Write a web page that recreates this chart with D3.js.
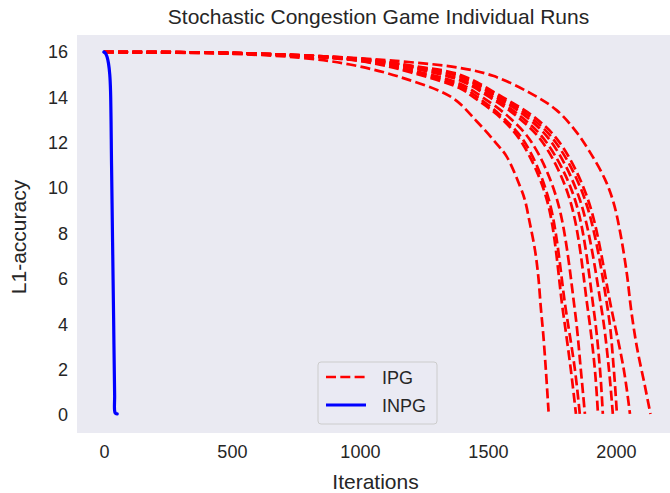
<!DOCTYPE html>
<html><head><meta charset="utf-8">
<script src="https://cdn.jsdelivr.net/npm/d3@7"></script>
<style>body{margin:0;background:#fff;} svg{display:block;font-family:"Liberation Sans",Arial,sans-serif;}</style>
</head><body>
<svg id="c" width="670" height="493"></svg>
<script>
const title = "Stochastic Congestion Game Individual Runs";
const xLabel = "Iterations";
const yLabel = "L1-accuracy";
const xTicks = [0, 500, 1000, 1500, 2000];
const yTicks = [0, 2, 4, 6, 8, 10, 12, 14, 16];
const seriesNames = ["IPG", "INPG"];

// IPG individual runs: [iteration, L1-accuracy]
const ipgRunA = [[0,16],[500,15.92],[766,15.75],[961,15.45],[1156,14.9],[1359,14],[1456,12.95],[1531,12],[1573,11.4],[1625,10.1],[1644,9.5],[1664,8.45],[1684,7.27],[1697,6.1],[1707,4.7],[1716,3.6],[1727,1.9],[1737,0.15]];
const ipgRunB = [[0,16],[500,15.94],[1000,15.6],[1200,15.1],[1391,14.4],[1445,14],[1550,13.1],[1633,12],[1730,9.5],[1793,4.6],[1824,2],[1844,0.05]];
const ipgRunC = [[0,16],[500,15.94],[1000,15.62],[1200,15.15],[1391,14.5],[1461,14],[1560,13.1],[1645,12],[1738,9.5],[1805,4.6],[1840,2],[1859,0.05]];
const ipgRunD = [[0,16],[500,15.95],[1000,15.64],[1200,15.2],[1391,14.6],[1480,14],[1585,13.1],[1672,12],[1770,9.5],[1840,4.6],[1863,2],[1879,0.05]];
const ipgRunE = [[0,16],[500,15.95],[1000,15.66],[1200,15.3],[1391,14.75],[1508,14],[1620,13.1],[1715,12],[1820,9.5],[1891,4.6],[1918,2],[1930,0.05]];
const ipgRunF = [[0,16],[500,15.95],[1000,15.67],[1200,15.32],[1391,14.8],[1520,14],[1635,13.1],[1730,12],[1840,9.5],[1914,4.6],[1938,2],[1949,0.05]];
const ipgRunG = [[0,16],[500,15.96],[1000,15.68],[1200,15.36],[1391,14.9],[1535,14],[1655,13.1],[1750,12],[1859,9.5],[1945,4.6],[1973,2],[1988,0.05]];
const ipgRunH = [[0,16],[500,15.96],[1000,15.7],[1200,15.38],[1391,14.95],[1547,14],[1670,13.1],[1766,12],[1879,9.5],[1969,4.6],[1992,2],[2004,0.05]];
const ipgRunI = [[0,16],[500,15.96],[1000,15.7],[1200,15.4],[1391,15.0],[1559,14],[1685,13.1],[1781,12],[1891,9.5],[1984,4.6],[2031,2],[2055,0.05]];
const ipgRunJ = [[0,16],[500,15.96],[1000,15.72],[1200,15.55],[1391,15.3],[1520,14.95],[1664,14.2],[1768,13.44],[1840,12.56],[1898,11.6],[1957,10.4],[1990,9.4],[2016,8.1],[2042,6.3],[2060,4.6],[2082,3.0],[2113,1.3],[2135,0.05]];
const ipgRuns = [ipgRunA, ipgRunB, ipgRunC, ipgRunD, ipgRunE, ipgRunF, ipgRunG, ipgRunH, ipgRunI, ipgRunJ];

// INPG run
const inpgRun = [[0,16],[6,15.95],[12,15.8],[18,15.5],[23,15.0],[26,14.3],[30,11.0],[34,7.6],[38,4.3],[42,0.9],[44,0.1],[52,0.05]];

const svg = d3.select("#c");
const plotL = 77, plotT = 35, plotB = 433, plotR = 674;
const x = d3.scaleLinear().domain([-105, 2227]).range([plotL, plotR]);
const y = d3.scaleLinear().domain([-0.79, 16.75]).range([plotB, plotT]);

svg.append("defs").append("clipPath").attr("id","clip")
  .append("rect").attr("x",plotL).attr("y",plotT).attr("width",plotR-plotL).attr("height",plotB-plotT);

svg.append("rect").attr("x",plotL).attr("y",plotT).attr("width",plotR-plotL).attr("height",plotB-plotT).attr("fill","#EAEAF2");

const line = d3.line().x(d=>x(d[0])).y(d=>y(d[1])).curve(d3.curveCatmullRom.alpha(0.5));
const g = svg.append("g").attr("clip-path","url(#clip)");
ipgRuns.forEach(run=>{
  g.append("path").attr("d",line(run)).attr("fill","none").attr("stroke","#ff0000")
   .attr("stroke-width",2.7).attr("stroke-dasharray","10,4.3");
});
g.append("path").attr("d",line(inpgRun)).attr("fill","none").attr("stroke","#0000ff")
  .attr("stroke-width",3.2).attr("stroke-linecap","round").attr("stroke-linejoin","round");

const xAxis = d3.axisBottom(x).tickValues(xTicks).tickSize(0).tickPadding(12).tickFormat(d3.format("d"));
const yAxis = d3.axisLeft(y).tickValues(yTicks).tickSize(0).tickPadding(9);
const gx = svg.append("g").attr("transform",`translate(0,${plotB})`).call(xAxis);
const gy = svg.append("g").attr("transform",`translate(${plotL},0)`).call(yAxis);
[gx,gy].forEach(a=>{a.select(".domain").remove();a.selectAll("text").attr("font-size",18).attr("fill","#262626").attr("font-family","'Liberation Sans',Arial,sans-serif");});

svg.append("text").attr("x",(plotL+plotR)/2+3).attr("y",24).attr("text-anchor","middle")
  .attr("font-size",21).attr("fill","#262626").text(title);
svg.append("text").attr("x",(plotL+plotR)/2).attr("y",489).attr("text-anchor","middle")
  .attr("font-size",21).attr("fill","#262626").text(xLabel);
svg.append("text").attr("transform",`translate(26,${(plotT+plotB)/2+3}) rotate(-90)`).attr("text-anchor","middle")
  .attr("font-size",21).attr("fill","#262626").text(yLabel);

// legend
const lg = svg.append("g").attr("transform","translate(318,362)");
lg.append("rect").attr("x",0).attr("y",0).attr("width",119).attr("height",62).attr("rx",3)
  .attr("fill","#EAEAF2").attr("fill-opacity",0.8).attr("stroke","#cccccc").attr("stroke-width",1);
const legendStyles = [{c:"#ff0000",dash:"10,4.3",w:2.7},{c:"#0000ff",dash:null,w:3.2}];
seriesNames.forEach((n,i)=>{
  const yy = 15 + i*28;
  const l = lg.append("line").attr("x1",8).attr("x2",48).attr("y1",yy).attr("y2",yy)
    .attr("stroke",legendStyles[i].c).attr("stroke-width",legendStyles[i].w);
  if(legendStyles[i].dash) l.attr("stroke-dasharray",legendStyles[i].dash);
  lg.append("text").attr("x",64).attr("y",yy+6.5).attr("font-size",18).attr("fill","#262626").text(n);
});
</script>
</body></html>
